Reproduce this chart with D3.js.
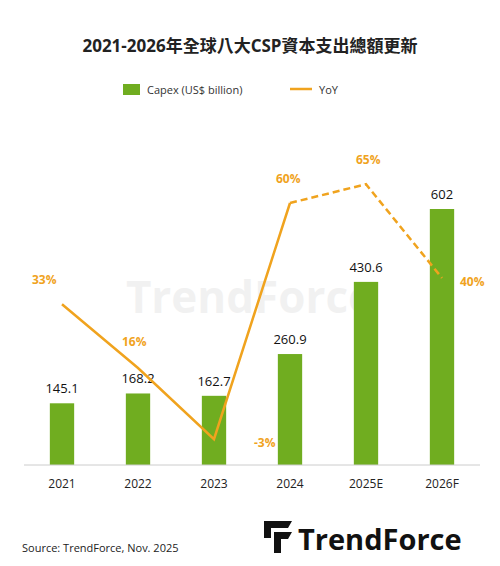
<!DOCTYPE html>
<html><head><meta charset="utf-8">
<script src="https://cdn.jsdelivr.net/npm/d3@7"></script>
<style>body{margin:0;background:#fff}text{font-family:"Open Sans","Noto Sans CJK TC",sans-serif}</style>
</head><body>
<script>
var years = ["2021","2022","2023","2024","2025E","2026F"]
var capex = [145.1, 168.2, 162.7, 260.9, 430.6, 602]
var yoy = [33, 16, -3, 60, 65, 40]
var capexLabels = ["145.1","168.2","162.7","260.9","430.6","602"]

var W = 500, H = 566
var svg = d3.select("body").append("svg").attr("width", W).attr("height", H)

svg.append("text").attr("x", 250).attr("y", 52).attr("text-anchor", "middle")
  .attr("font-size", 17).attr("font-weight", "bold").attr("fill", "#222")
  .attr("font-family", "'Noto Sans CJK TC',sans-serif")
  .text("2021-2026年全球八大CSP資本支出總額更新")

// legend
svg.append("rect").attr("x", 123).attr("y", 84).attr("width", 17).attr("height", 11).attr("fill", "#70ad20")
svg.append("text").attr("x", 147).attr("y", 94).attr("font-size", 11).attr("fill", "#333").text("Capex (US$ billion)")
svg.append("line").attr("x1", 290).attr("x2", 312).attr("y1", 89).attr("y2", 89).attr("stroke", "#f0a31e").attr("stroke-width", 2.5)
svg.append("text").attr("x", 319).attr("y", 94).attr("font-size", 11).attr("fill", "#333").text("YoY")

// watermark
svg.append("text").attr("x", 250).attr("y", 313).attr("text-anchor", "middle").attr("font-size", 44)
  .attr("font-weight", "bold").attr("fill", "#000").attr("opacity", 0.05).text("TrendForce")

var x = d3.scaleBand().domain(years).range([24, 480]).paddingInner(0.68).paddingOuter(0.34)
var y = d3.scaleLinear().domain([0, 602]).range([465, 209])
var y2 = d3.scaleLinear().domain([0, 60]).range([428, 203])

svg.selectAll(".bar").data(capex).enter().append("rect")
  .attr("x", (d, i) => x(years[i])).attr("width", x.bandwidth())
  .attr("y", d => y(d)).attr("height", d => y(0) - y(d)).attr("fill", "#70ad20")

svg.selectAll(".bl").data(capex).enter().append("text")
  .attr("x", (d, i) => x(years[i]) + x.bandwidth() / 2).attr("y", d => y(d) - 10)
  .attr("text-anchor", "middle").attr("font-size", 13).attr("fill", "#111")
  .text((d, i) => capexLabels[i])

svg.append("line").attr("x1", 24).attr("x2", 480).attr("y1", 465).attr("y2", 465).attr("stroke", "#ccc")
var ax = svg.append("g").attr("transform", "translate(0,465)")
  .call(d3.axisBottom(x).tickSize(0).tickPadding(14))
ax.select(".domain").remove()
ax.selectAll("text").attr("font-size", 12).attr("fill", "#222").attr("font-family", "'Open Sans',sans-serif")

var cx = i => x(years[i]) + x.bandwidth() / 2
var line = d3.line().x(d => cx(d.i)).y(d => y2(d.v))
var pts = yoy.map((v, i) => ({v: v, i: i}))
svg.append("path").attr("d", line(pts.slice(0, 4))).attr("fill", "none").attr("stroke", "#f0a31e").attr("stroke-width", 2.5)
svg.append("path").attr("d", line(pts.slice(3))).attr("fill", "none").attr("stroke", "#f0a31e").attr("stroke-width", 2.5).attr("stroke-dasharray", "7,4")

var off = [[-30, -20], [-16, -22], [40, 8], [-14, -20], [-10, -20], [18, 8]]
svg.selectAll(".yl").data(yoy).enter().append("text")
  .attr("x", (d, i) => cx(i) + off[i][0]).attr("y", (d, i) => y2(d) + off[i][1])
  .attr("font-size", 12).attr("font-weight", "bold").attr("fill", "#f0a31e")
  .text(d => d + "%")

svg.append("text").attr("x", 22).attr("y", 552).attr("font-size", 11).attr("fill", "#222").text("Source: TrendForce, Nov. 2025")

// logo
var lg = svg.append("g").attr("transform", "translate(264,521)")
lg.append("path").attr("d", "M0,0h28l-4,7h-17v10h-7z M10,11h18l-4,7h-7v14h-7z").attr("fill", "#111")
lg.append("text").attr("x", 34).attr("y", 29).attr("font-size", 29).attr("font-weight", "bold").attr("fill", "#111").text("TrendForce")
</script>
</body></html>
